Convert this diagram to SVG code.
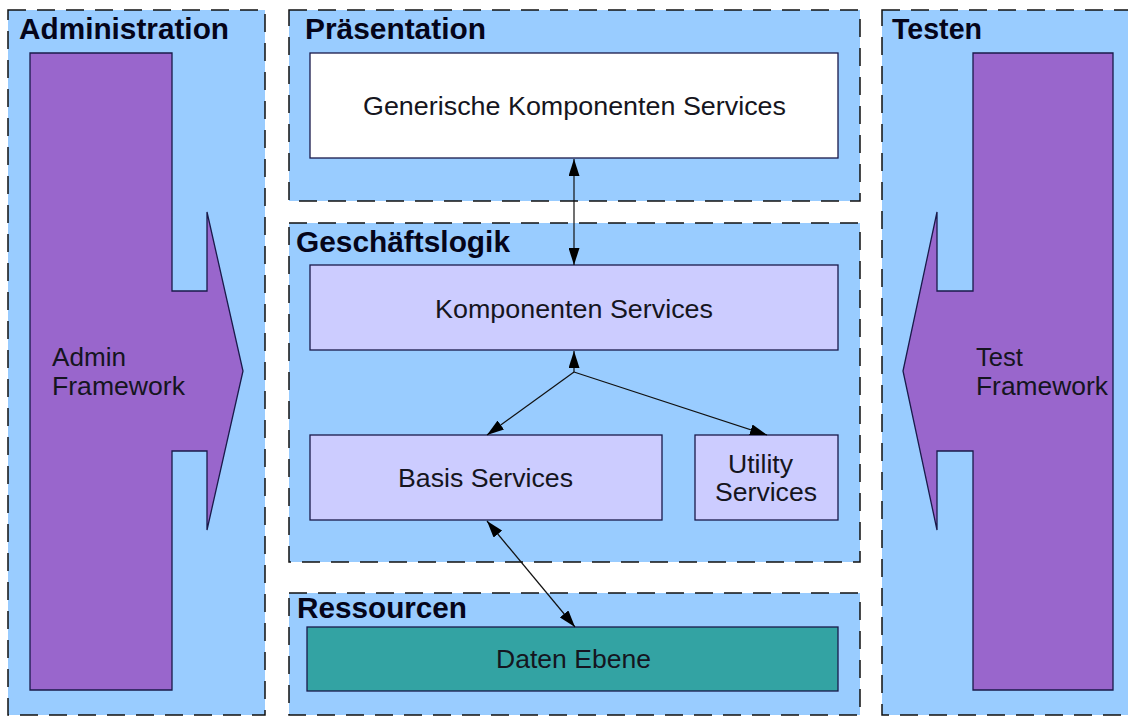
<svg xmlns="http://www.w3.org/2000/svg" width="1128" height="716" viewBox="0 0 1128 716">
  <style>
    .panel { fill: #99ccff; stroke: #111; stroke-width: 1.5; stroke-dasharray: 18 11; }
    .box { stroke: #1a1a4a; stroke-width: 1.3; }
    .comp { fill: #ccccff; }
    .frame { fill: #9966cc; stroke: #1a1a4a; stroke-width: 1.3; }
    .title { font-family: "Liberation Sans", Arial, sans-serif; font-weight: bold; font-size: 29px; fill: #05051a; }
    .label { font-family: "Liberation Sans", Arial, sans-serif; font-size: 25px; fill: #151520; }
    .mid { text-anchor: middle; }
    .link { fill: none; stroke: #111; stroke-width: 1.2; }
  </style>
  <defs>
    <marker id="head" viewBox="0 0 17 11" refX="17" refY="5.5" markerWidth="17" markerHeight="11" markerUnits="userSpaceOnUse" orient="auto-start-reverse">
      <path d="M0,0 L17,5.5 L0,11 Z" fill="#000"/>
    </marker>
  </defs>

  <rect width="1128" height="716" fill="#ffffff"/>

  <!-- Administration column -->
  <g id="administration">
    <rect class="panel" x="8" y="10" width="257" height="705"/>
    <text class="title" x="19" y="39" textLength="210" lengthAdjust="spacingAndGlyphs">Administration</text>
  </g>
  <g id="admin-framework">
    <polygon class="frame" points="30,53 172,53 172,291 207,291 207,212 243,371 207,530 207,451 172,451 172,690 30,690"/>
    <text class="label" x="52" y="366" textLength="74" lengthAdjust="spacingAndGlyphs">Admin</text>
    <text class="label" x="52" y="395" textLength="133" lengthAdjust="spacingAndGlyphs">Framework</text>
  </g>

  <!-- Presentation layer -->
  <g id="praesentation">
    <rect class="panel" x="289" y="10" width="571" height="191"/>
    <text class="title" x="305" y="39" textLength="181" lengthAdjust="spacingAndGlyphs">Präsentation</text>
  </g>
  <g id="generische-komponenten-services">
    <rect class="box" x="310" y="53" width="528" height="105" fill="#ffffff"/>
    <text class="label" x="363" y="115" textLength="423" lengthAdjust="spacingAndGlyphs">Generische Komponenten Services</text>
  </g>

  <!-- Business logic layer -->
  <g id="geschaeftslogik">
    <rect class="panel" x="289" y="223" width="571" height="339"/>
    <text class="title" x="296" y="252" textLength="214" lengthAdjust="spacingAndGlyphs">Geschäftslogik</text>
  </g>
  <g id="komponenten-services">
    <rect class="box comp" x="310" y="265" width="528" height="85"/>
    <text class="label" x="435" y="318" textLength="278" lengthAdjust="spacingAndGlyphs">Komponenten Services</text>
  </g>
  <g id="basis-services">
    <rect class="box comp" x="310" y="435" width="352" height="85"/>
    <text class="label" x="398" y="487" textLength="175" lengthAdjust="spacingAndGlyphs">Basis Services</text>
  </g>
  <g id="utility-services">
    <rect class="box comp" x="695" y="435" width="143" height="85"/>
    <text class="label" x="728" y="473" textLength="65" lengthAdjust="spacingAndGlyphs">Utility</text>
    <text class="label" x="715" y="501" textLength="102" lengthAdjust="spacingAndGlyphs">Services</text>
  </g>

  <!-- Resources layer -->
  <g id="ressourcen">
    <rect class="panel" x="289" y="593" width="571" height="122"/>
    <text class="title" x="297" y="618" textLength="170" lengthAdjust="spacingAndGlyphs">Ressourcen</text>
  </g>
  <g id="daten-ebene">
    <rect class="box" x="307" y="627" width="531" height="64" fill="#33a3a3"/>
    <text class="label" x="496" y="668" textLength="155" lengthAdjust="spacingAndGlyphs">Daten Ebene</text>
  </g>

  <!-- Testing column -->
  <g id="testen">
    <rect class="panel" x="882" y="10" width="260" height="705"/>
    <text class="title" x="892" y="39" textLength="90" lengthAdjust="spacingAndGlyphs">Testen</text>
  </g>
  <g id="test-framework">
    <polygon class="frame" points="1113,53 973,53 973,291 937,291 937,212 903,371 937,530 937,451 973,451 973,690 1113,690"/>
    <text class="label" x="976" y="366" textLength="47" lengthAdjust="spacingAndGlyphs">Test</text>
    <text class="label" x="976" y="395" textLength="132" lengthAdjust="spacingAndGlyphs">Framework</text>
  </g>

  <!-- Connectors -->
  <g id="connectors">
    <line class="link" x1="574" y1="159" x2="574" y2="265" marker-start="url(#head)" marker-end="url(#head)"/>
    <line class="link" x1="574" y1="372" x2="574" y2="351" marker-end="url(#head)"/>
    <line class="link" x1="574" y1="372" x2="487" y2="435" marker-end="url(#head)"/>
    <line class="link" x1="574" y1="372" x2="767" y2="435" marker-end="url(#head)"/>
    <line class="link" x1="487" y1="521" x2="575" y2="627" marker-start="url(#head)" marker-end="url(#head)"/>
  </g>
</svg>
